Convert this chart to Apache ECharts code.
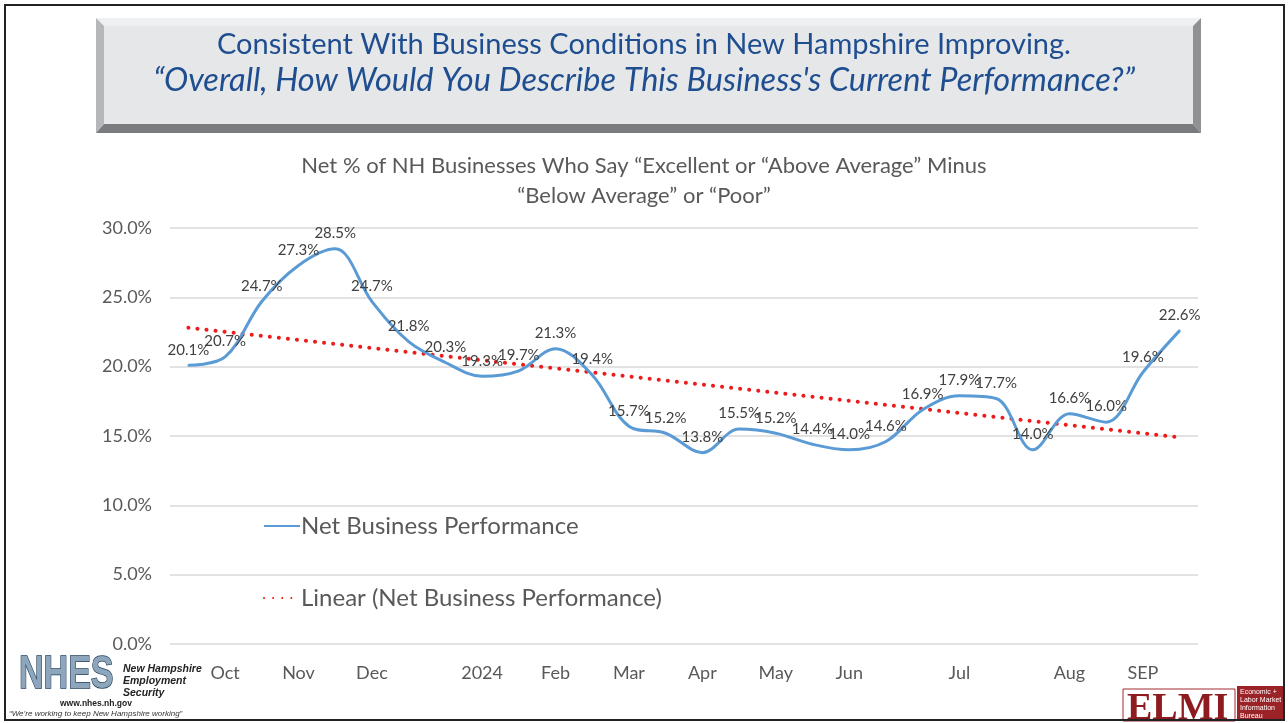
<!DOCTYPE html>
<html><head><meta charset="utf-8">
<script src="https://cdn.jsdelivr.net/npm/echarts@6/dist/echarts.min.js"></script>
<style>html,body{margin:0;padding:0;background:#fff}#c{width:1288px;height:723px}</style>
</head><body><div id="c"></div>
<script>
const categories = ['', 'Oct', '', 'Nov', '', 'Dec', '', '', '2024', '', 'Feb', '', 'Mar', '', 'Apr', '', 'May', '', 'Jun', '', '', 'Jul', '', '', 'Aug', '', 'SEP', ''];
const performance = [20.1, 20.7, 24.7, 27.3, 28.5, 24.7, 21.8, 20.3, 19.3, 19.7, 21.3, 19.4, 15.7, 15.2, 13.8, 15.5, 15.2, 14.4, 14.0, 14.6, 16.9, 17.9, 17.7, 14.0, 16.6, 16.0, 19.6, 22.6];
const trendStart = 22.8;
const trendEnd = 14.9;
const yTicks = [0, 5, 10, 15, 20, 25, 30];

const trendData = performance.map((v, i) => i === 0 ? trendStart : (i === performance.length - 1 ? trendEnd : null));

const FONT = 'Lato';
const chart = echarts.init(document.getElementById('c'), null, {renderer: 'canvas'});
chart.setOption({
  backgroundColor: '#fff',
  animation: false,
  title: [
    {text: 'Consistent With Business Conditions in New Hampshire Improving.', left: 'center', top: 25,
     textStyle: {fontFamily: FONT, fontSize: 29, fontWeight: 'normal', color: '#1f4e90'}},
    {text: '\u201cOverall, How Would You Describe This Business\'s Current Performance?\u201d', left: 'center', top: 59,
     textStyle: {fontFamily: FONT, fontSize: 32.5, fontStyle: 'italic', fontWeight: 'normal', color: '#1f4e90'}},
    {text: 'Net % of NH Businesses Who Say \u201cExcellent or \u201cAbove Average\u201d Minus\n\u201cBelow Average\u201d or \u201cPoor\u201d', left: 'center', top: 146,
     textStyle: {fontFamily: FONT, fontSize: 22, fontWeight: 'normal', color: '#595959', lineHeight: 30}}
  ],
  legend: {
    orient: 'vertical', left: 258, top: 509, itemGap: 48, itemWidth: 36, itemHeight: 14,
    itemStyle: {opacity: 0},
    textStyle: {fontFamily: FONT, fontSize: 24, color: '#595959', padding: [0, 0, 0, -4]},
    data: ['Net Business Performance', 'Linear (Net Business Performance)']
  },
  grid: {left: 170, right: 90, top: 228, bottom: 79},
  xAxis: {
    type: 'category', data: categories, boundaryGap: true,
    axisLine: {show: false}, axisTick: {show: false},
    axisLabel: {interval: 0, fontFamily: FONT, fontSize: 18, color: '#595959', margin: 20}
  },
  yAxis: {
    type: 'value', min: 0, max: 30, interval: 5,
    axisLine: {show: false}, axisTick: {show: false},
    axisLabel: {fontFamily: FONT, fontSize: 18, color: '#595959', margin: 18,
      formatter: v => yTicks.includes(v) ? v.toFixed(1) + '%' : ''},
    splitLine: {lineStyle: {color: '#d9d9d9', width: 1.5}}
  },
  series: [
    {
      name: 'Net Business Performance', type: 'line', data: performance,
      smooth: 0.35, symbol: 'circle', symbolSize: 2, showSymbol: true, z: 3,
      lineStyle: {color: '#5b9bd5', width: 3},
      itemStyle: {color: '#5b9bd5'},
      label: {show: true, position: 'top', distance: 7, fontFamily: FONT, fontSize: 15, color: '#404040',
        formatter: p => p.value.toFixed(1) + '%'}
    },
    {
      name: 'Linear (Net Business Performance)', type: 'line', data: trendData, connectNulls: true,
      symbol: 'none', showSymbol: false, z: 2,
      lineStyle: {color: '#ec1c1c', width: 4, type: [0.1, 9], cap: 'round'},
      itemStyle: {color: '#ec1c1c'}
    }
  ],
  graphic: [
    {type: 'rect', shape: {x: 5, y: 5, width: 1279, height: 715}, style: {fill: 'none', stroke: '#222', lineWidth: 2}, z: 100},
    {type: 'polygon', shape: {points: [[96,18],[1201,18],[1193,26],[104,26]]}, style: {fill: '#eff0f2'}, z: -10},
    {type: 'polygon', shape: {points: [[96,18],[104,26],[104,124],[96,133]]}, style: {fill: '#b6b7ba'}, z: -10},
    {type: 'polygon', shape: {points: [[1201,18],[1201,133],[1193,124],[1193,26]]}, style: {fill: '#909194'}, z: -10},
    {type: 'polygon', shape: {points: [[96,133],[104,124],[1193,124],[1201,133]]}, style: {fill: '#7a7b7e'}, z: -10},
    {type: 'rect', shape: {x: 104, y: 26, width: 1089, height: 98}, style: {fill: '#e6e7e9'}, z: -10},
    // NHES logo
    {type: 'text', x: 19, y: 652, scaleX: 0.74, z: 50, style: {text: 'NHES', font: 'bold 46px "Liberation Sans"',
      fill: '#8ea6bb', stroke: '#22405c', lineWidth: 1.5}},
    {type: 'text', x: 123, y: 663, z: 50, style: {text: 'New Hampshire\nEmployment\nSecurity', font: 'italic bold 10.5px "Liberation Sans"', fill: '#222', lineHeight: 12}},
    {type: 'text', x: 60, y: 699, z: 50, style: {text: 'www.nhes.nh.gov', font: 'bold 8.5px "Liberation Sans"', fill: '#222'}},
    {type: 'text', x: 9, y: 710, z: 50, style: {text: '\u201cWe\u2019re working to keep New Hampshire working\u201d', font: 'italic 8px "Liberation Sans"', fill: '#333'}},
    // ELMI logo
    {type: 'rect', shape: {x: 1123, y: 689, width: 112, height: 32}, style: {fill: '#fff', stroke: '#a02a2d', lineWidth: 1}, z: 50},
    {type: 'text', x: 1127, y: 690, z: 51, style: {text: 'ELMI', font: 'bold 38px "Liberation Serif"', fill: '#8e1b1f'}},
    {type: 'rect', shape: {x: 1237, y: 686, width: 47, height: 34}, style: {fill: '#9b2226'}, z: 50},
    {type: 'text', x: 1240, y: 688, z: 51, style: {text: 'Economic +\nLabor Market\nInformation\nBureau', font: '7px "Liberation Sans"', fill: '#fff', lineHeight: 8}}
  ]
});
</script></body></html>
